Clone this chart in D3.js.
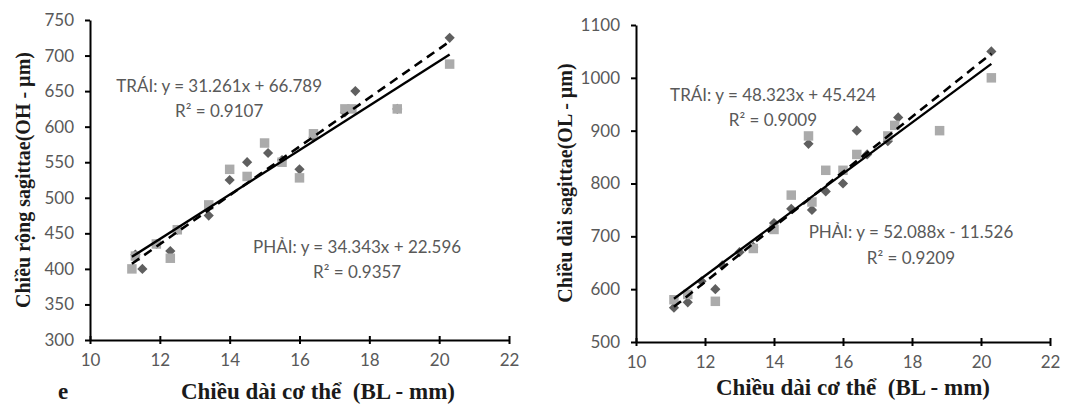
<!DOCTYPE html>
<html>
<head>
<meta charset="utf-8">
<script src="https://cdn.jsdelivr.net/npm/d3@7"></script>
<style>
  body { margin: 0; background: #fff; }
  svg { display: block; }
  .tick text { font-family: Lato, "Open Sans", sans-serif; font-size: 17px; fill: #595959; }
  .axis path, .axis line { stroke: #000; stroke-width: 2; }
  .eq { font-family: Lato, "Open Sans", sans-serif; font-size: 17px; fill: #595959; text-anchor: middle; }
  .title { font-family: "Liberation Serif", "Times New Roman", serif; font-weight: bold; font-size: 20px; fill: #1a1a1a; text-anchor: middle; }
  .xtitle { font-size: 23px; }
</style>
</head>
<body>
<svg id="chart" width="1082" height="405"></svg>
<script>
// shared x ticks
let xTicks = [10, 12, 14, 16, 18, 20, 22]

// chart 1: OH (width of sagittae)
let ohTicks = [300, 350, 400, 450, 500, 550, 600, 650, 700, 750]
let ohDiamondX = [11.3, 11.5, 11.9, 12.3, 12.5, 13.4, 14.0, 14.5, 15.1, 15.5, 16.0, 16.4, 17.3, 17.6, 18.8, 20.3]
let ohDiamondY = [420, 400, 435, 425, 455, 475, 525, 550, 563, 553, 540, 585, 620, 650, 625, 725]
let ohSquareX = [11.2, 11.3, 11.9, 12.3, 12.5, 13.4, 14.0, 14.5, 15.0, 15.5, 16.0, 16.4, 17.3, 17.5, 18.8, 20.3]
let ohSquareY = [400, 418, 435, 415, 455, 490, 540, 530, 577, 550, 528, 590, 625, 625, 625, 688]
// trend lines: [slope, intercept, r2]
let ohTrai = [31.261, 66.789, 0.9107]
let ohPhai = [34.343, 22.596, 0.9357]

// chart 2: OL (length of sagittae)
let olTicks = [500, 600, 700, 800, 900, 1000, 1100]
let olDiamondX = [11.1, 11.5, 11.9, 12.3, 12.5, 13.0, 13.4, 14.0, 14.5, 15.0, 15.1, 15.5, 16.0, 16.4, 16.7, 17.3, 17.6, 20.3]
let olDiamondY = [565, 575, 615, 600, 645, 670, 680, 725, 752, 875, 750, 785, 800, 900, 855, 880, 925, 1050]
let olSquareX = [11.1, 11.5, 12.3, 13.4, 14.0, 14.5, 15.0, 15.1, 15.5, 16.0, 16.4, 17.3, 17.5, 18.8, 20.3]
let olSquareY = [580, 590, 577, 677, 713, 778, 890, 765, 825, 825, 855, 890, 910, 900, 1000]
let olTrai = [48.323, 45.424, 0.9009]
let olPhai = [52.088, -11.526, 0.9209]

let svg = d3.select('#chart')

function drawChart(c) {
  let x = d3.scaleLinear().domain([10, 22]).range([c.left, c.right])
  let y = d3.scaleLinear().domain([c.yTicks[0], c.yTicks[c.yTicks.length - 1]]).range([c.bottom, c.top])
  let g = svg.append('g')

  // x axis
  let xa = g.append('g').attr('class', 'axis')
    .attr('transform', 'translate(0,' + c.bottom + ')')
    .call(d3.axisBottom(x).tickValues(xTicks).tickSize(4).tickSizeOuter(0).tickPadding(10))
  xa.selectAll('.tick line').attr('y1', -4)

  // y axis
  g.append('g').attr('class', 'axis')
    .attr('transform', 'translate(' + c.left + ',0)')
    .call(d3.axisLeft(y).tickValues(c.yTicks).tickFormat(d3.format('d')).tickSize(5).tickSizeOuter(0).tickPadding(11))

  // markers: diamonds first, squares drawn on top
  let dia = d3.symbol().type(d3.symbolSquare).size(52)
  g.selectAll('.dia').data(c.dX.map((v, i) => [v, c.dY[i]])).enter()
    .append('path')
    .attr('d', dia)
    .attr('transform', d => 'translate(' + x(d[0]) + ',' + y(d[1]) + ') rotate(45)')
    .attr('fill', '#5f5f5f')

  let sq = d3.symbol().type(d3.symbolSquare).size(90)
  g.selectAll('.sq').data(c.sX.map((v, i) => [v, c.sY[i]])).enter()
    .append('path')
    .attr('d', sq)
    .attr('transform', d => 'translate(' + x(d[0]) + ',' + y(d[1]) + ')')
    .attr('fill', '#ababab')

  // trend lines
  let line = d3.line().x(d => x(d[0])).y(d => y(d[1]))
  let x0 = c.lineX[0], x1 = c.lineX[1]
  g.append('path')
    .attr('d', line([[x0, c.phai[0] * x0 + c.phai[1]], [x1, c.phai[0] * x1 + c.phai[1]]]))
    .attr('stroke', '#000').attr('stroke-width', 2.6).attr('fill', 'none')
    .attr('stroke-dasharray', '9,6')
  g.append('path')
    .attr('d', line([[x0, c.trai[0] * x0 + c.trai[1]], [x1, c.trai[0] * x1 + c.trai[1]]]))
    .attr('stroke', '#000').attr('stroke-width', 2.4).attr('fill', 'none')

  // equations
  let fmt = v => (v < 0 ? '- ' : '+ ') + Math.abs(v).toFixed(3)
  g.append('text').attr('class', 'eq')
    .attr('x', x(c.traiPos[0])).attr('y', y(c.traiPos[1]))
    .text('TRÁI: y = ' + c.trai[0].toFixed(3) + 'x ' + fmt(c.trai[1]))
  g.append('text').attr('class', 'eq')
    .attr('x', x(c.traiPos[0])).attr('y', y(c.traiPos[2]))
    .text('R² = ' + c.trai[2].toFixed(4))
  g.append('text').attr('class', 'eq')
    .attr('x', x(c.phaiPos[0])).attr('y', y(c.phaiPos[1]))
    .text('PHẢI: y = ' + c.phai[0].toFixed(3) + 'x ' + fmt(c.phai[1]))
  g.append('text').attr('class', 'eq')
    .attr('x', x(c.phaiPos[0])).attr('y', y(c.phaiPos[2]))
    .text('R² = ' + c.phai[2].toFixed(4))

  // axis titles
  g.append('text').attr('class', 'title')
    .attr('transform', 'translate(' + c.yTitleX + ',' + c.yTitleY + ') rotate(-90)')
    .attr('dy', '0.35em')
    .text(c.yTitle)
  g.append('text').attr('class', 'title xtitle')
    .attr('x', c.xTitleX).attr('y', c.xTitleY)
    .text('Chiều dài cơ thể\u00a0 (BL - mm)')
}

drawChart({
  left: 90, right: 509, top: 20, bottom: 340,
  yTicks: ohTicks, dX: ohDiamondX, dY: ohDiamondY, sX: ohSquareX, sY: ohSquareY,
  trai: ohTrai, phai: ohPhai, lineX: [11.2, 20.3],
  traiPos: [13.7, 649, 614], phaiPos: [17.65, 422, 387],
  yTitle: 'Chiều rộng sagittae(OH - µm)', yTitleX: 23, yTitleY: 180,
  xTitleX: 318, xTitleY: 399
})

drawChart({
  left: 636, right: 1050, top: 25, bottom: 342,
  yTicks: olTicks, dX: olDiamondX, dY: olDiamondY, sX: olSquareX, sY: olSquareY,
  trai: olTrai, phai: olPhai, lineX: [11.1, 20.3],
  traiPos: [13.97, 956, 909], phaiPos: [17.97, 697, 647],
  yTitle: 'Chiều dài sagittae(OL - µm)', yTitleX: 565, yTitleY: 183,
  xTitleX: 853, xTitleY: 395
})

svg.append('text').attr('class', 'title xtitle')
  .attr('x', 63).attr('y', 399)
  .text('e')
</script>
</body>
</html>
